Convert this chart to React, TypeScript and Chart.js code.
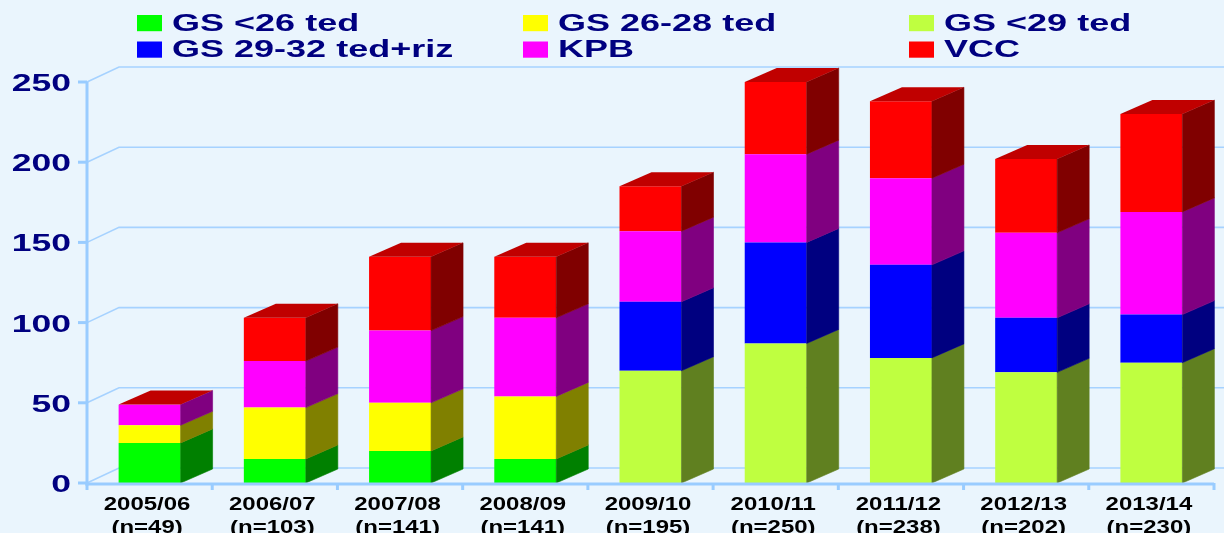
import React, { useEffect, useRef } from 'react';
import { Chart, registerables } from 'chart.js';

Chart.register(...registerables);

// ---------- data ----------
const categories = ['2005/06', '2006/07', '2007/08', '2008/09', '2009/10', '2010/11', '2011/12', '2012/13', '2013/14'];
const sampleSizes = ['(n=49)', '(n=103)', '(n=141)', '(n=141)', '(n=195)', '(n=250)', '(n=238)', '(n=202)', '(n=230)'];
const seriesNames = ['GS <26 ted', 'GS 26-28 ted', 'GS <29 ted', 'GS 29-32 ted+riz', 'KPB', 'VCC'];
const gsUnder26 = [25, 15, 20, 15, 0, 0, 0, 0, 0];
const gs26to28 = [11, 32, 30, 39, 0, 0, 0, 0, 0];
const gsUnder29 = [0, 0, 0, 0, 70, 87, 78, 69, 75];
const gs29to32 = [0, 0, 0, 0, 43, 63, 58, 34, 30];
const kpb = [13, 29, 45, 49, 44, 55, 54, 53, 64];
const vcc = [0, 27, 46, 38, 28, 45, 48, 46, 61];
const yTicks = [0, 50, 100, 150, 200, 250];

// ---------- styles ----------
const frontColors = ['#00FF00', '#FFFF00', '#BFFF40', '#0000FF', '#FF00FF', '#FF0000'];
const sideColors = ['#008000', '#808000', '#608020', '#000080', '#800080', '#800000'];
const TOP_COLOR = '#C00000';
const BG = '#EAF5FD';
const AXIS = '#99CCFF';
const GRID = '#A6D2FF';
const NAVY = '#000080';
const BIG_FONT = 'bold 24.5px "Liberation Sans", Arial, sans-serif';
const SMALL_FONT = 'bold 17.5px "Liberation Sans", Arial, sans-serif';
const DX = 32;
const DY_BAR = -14;
const DY_GRID = -15;

function drawStretched(ctx: CanvasRenderingContext2D, text: string, x: number, y: number, align: CanvasTextAlign, sx: number) {
  ctx.save();
  ctx.translate(x, y);
  ctx.scale(sx, 1);
  ctx.textAlign = align;
  ctx.textBaseline = 'alphabetic';
  ctx.fillText(text, 0, 0);
  ctx.restore();
}

const pseudo3d = {
  id: 'pseudo3d',
  beforeDatasetsDraw(chart: any) {
    const ctx = chart.ctx as CanvasRenderingContext2D;
    const ys = chart.scales.y;
    const area = chart.chartArea;
    ctx.save();
    ctx.strokeStyle = GRID;
    ctx.lineWidth = 1.6;
    yTicks.forEach((v) => {
      const y = ys.getPixelForValue(v);
      ctx.beginPath();
      ctx.moveTo(area.left, y);
      ctx.lineTo(area.left + DX, y + DY_GRID);
      ctx.lineTo(chart.width, y + DY_GRID);
      ctx.stroke();
    });
    ctx.restore();
  },
  afterDatasetsDraw(chart: any) {
    const ctx = chart.ctx as CanvasRenderingContext2D;
    const n = categories.length;
    ctx.save();
    for (let i = 0; i < n; i++) {
      let topY = Infinity;
      let left = 0;
      let right = 0;
      chart.data.datasets.forEach((_ds: any, di: number) => {
        const el = chart.getDatasetMeta(di).data[i];
        const p = el.getProps(['x', 'y', 'base', 'width'], true);
        const l = p.x - p.width / 2;
        const r = p.x + p.width / 2;
        const t = Math.min(p.y, p.base);
        const b = Math.max(p.y, p.base);
        left = l;
        right = r;
        topY = Math.min(topY, t);
        if (b - t > 0.01) {
          ctx.fillStyle = sideColors[di];
          ctx.strokeStyle = sideColors[di];
          ctx.lineWidth = 0.6;
          ctx.beginPath();
          ctx.moveTo(r, b);
          ctx.lineTo(r, t);
          ctx.lineTo(r + DX, t + DY_BAR);
          ctx.lineTo(r + DX, b + DY_BAR);
          ctx.closePath();
          ctx.fill();
          ctx.stroke();
        }
      });
      ctx.fillStyle = TOP_COLOR;
      ctx.beginPath();
      ctx.moveTo(left, topY);
      ctx.lineTo(left + DX, topY + DY_BAR);
      ctx.lineTo(right + DX, topY + DY_BAR);
      ctx.lineTo(right, topY);
      ctx.closePath();
      ctx.fill();
    }
    ctx.restore();
  },
  afterDraw(chart: any) {
    const ctx = chart.ctx as CanvasRenderingContext2D;
    const ys = chart.scales.y;
    const xs = chart.scales.x;
    const area = chart.chartArea;
    const n = categories.length;
    const catW = (area.right - area.left) / n;
    ctx.save();
    // axes
    ctx.strokeStyle = AXIS;
    ctx.lineWidth = 3;
    ctx.beginPath();
    ctx.moveTo(area.left, ys.getPixelForValue(yTicks[yTicks.length - 1]));
    ctx.lineTo(area.left, area.bottom + 2.5);
    ctx.stroke();
    ctx.beginPath();
    ctx.moveTo(area.left - 1.5, area.bottom + 1);
    ctx.lineTo(area.right, area.bottom + 1);
    ctx.stroke();
    // y ticks
    yTicks.forEach((v) => {
      const y = ys.getPixelForValue(v);
      ctx.beginPath();
      ctx.moveTo(area.left - 9, y);
      ctx.lineTo(area.left, y);
      ctx.stroke();
    });
    // x ticks
    for (let i = 0; i <= n; i++) {
      const x = area.left + i * catW;
      ctx.beginPath();
      ctx.moveTo(x, area.bottom);
      ctx.lineTo(x, area.bottom + 7);
      ctx.stroke();
    }
    // y labels
    ctx.fillStyle = NAVY;
    ctx.font = BIG_FONT;
    yTicks.forEach((v) => {
      drawStretched(ctx, String(v), 71, ys.getPixelForValue(v) + 9, 'right', 1.45);
    });
    // x labels
    ctx.fillStyle = '#000000';
    ctx.font = SMALL_FONT;
    categories.forEach((c, i) => {
      const x = xs.getPixelForValue(i) - 2.5;
      drawStretched(ctx, c, x, 509.5, 'center', 1.37);
      drawStretched(ctx, sampleSizes[i], x, 532.5, 'center', 1.37);
    });
    // legend
    const colX = [137, 523, 909];
    const rowSquareTop = [15, 41.5];
    const rowBaseline = [31, 56.8];
    seriesNames.forEach((name, i) => {
      const col = i % 3;
      const row = Math.floor(i / 3);
      ctx.fillStyle = frontColors[i];
      ctx.fillRect(colX[col], rowSquareTop[row], 25, 16.2);
      ctx.fillStyle = NAVY;
      ctx.font = BIG_FONT;
      drawStretched(ctx, name, colX[col] + 35, rowBaseline[row], 'left', 1.47);
    });
    ctx.restore();
  },
};

export default function App() {
  const canvasRef = useRef<HTMLCanvasElement | null>(null);

  useEffect(() => {
    document.body.style.margin = '0';
    const canvas = canvasRef.current;
    if (!canvas) return;
    const seriesData = [gsUnder26, gs26to28, gsUnder29, gs29to32, kpb, vcc];
    const chart = new Chart(canvas, {
      type: 'bar',
      data: {
        labels: categories,
        datasets: seriesNames.map((name, i) => ({
          label: name,
          data: seriesData[i],
          backgroundColor: frontColors[i],
          borderWidth: 0,
          barPercentage: 0.495,
          categoryPercentage: 1,
        })),
      },
      options: {
        responsive: false,
        maintainAspectRatio: false,
        devicePixelRatio: 1,
        animation: false,
        layout: { padding: { left: 87, right: 10, top: 82, bottom: 50 } },
        plugins: {
          legend: { display: false },
          tooltip: { enabled: false },
          title: { display: false },
        },
        scales: {
          x: { stacked: true, display: false },
          y: { stacked: true, display: false, min: 0, max: 250 },
        },
      },
      plugins: [pseudo3d],
    });
    return () => chart.destroy();
  }, []);

  return (
    <div style={{ position: 'fixed', left: 0, top: 0, width: 1224, height: 533, background: BG }}>
      <canvas ref={canvasRef} width={1224} height={533} style={{ display: 'block', width: 1224, height: 533 }} />
    </div>
  );
}
